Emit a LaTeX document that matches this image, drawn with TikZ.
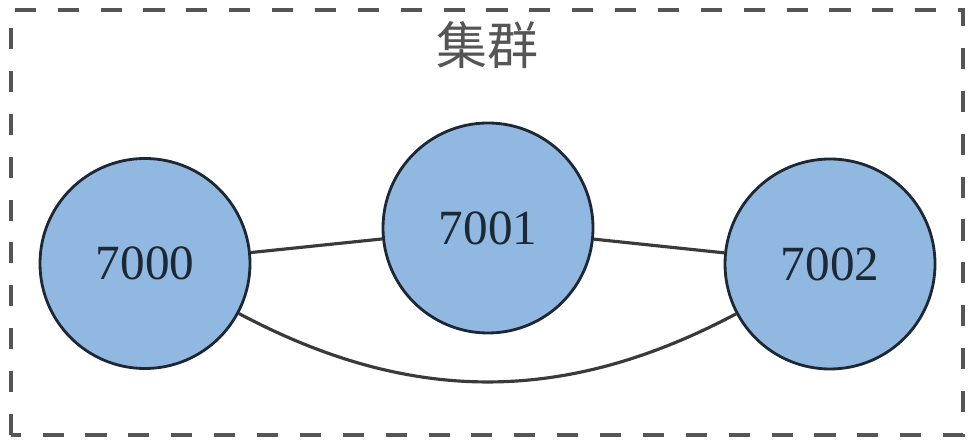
\documentclass[tikz,border=0pt]{standalone}
\usepackage{fontspec}
\setmainfont{Liberation Serif}
\newfontfamily\cjkfont{Noto Sans CJK SC}
\definecolor{nodeblue}{RGB}{144,184,224}
\definecolor{rimdark}{RGB}{30,40,52}
\definecolor{linegray}{RGB}{58,58,58}
\definecolor{framegray}{RGB}{85,85,85}
\tikzset{
  server/.style={circle, draw=rimdark, line width=0.8pt, fill=nodeblue,
    minimum size=2.1cm, inner sep=0pt, text=rimdark, font=\fontsize{14}{16}\selectfont},
  link/.style={draw=linegray, line width=0.9pt},
  frame/.style={draw=framegray, line width=1pt, dash pattern=on 6pt off 6.2pt}
}

\begin{document}
\begin{tikzpicture}
	\useasboundingbox (0,0) rectangle (9.74,4.48);
	\draw[frame] (0.11,0.13) rectangle (9.63,4.38);
	\node[text=framegray, font=\cjkfont\fontsize{14.5}{16}\selectfont] (title) at (4.87,4.03) {集群};

	\node[server] (n7000) at (1.45,1.845) {7000};
	\node[server] (n7001) at (4.88,2.20) {7001};
	\node[server] (n7002) at (8.30,1.84) {7002};

	\draw[link] (n7000) -- (n7001);
	\draw[link] (n7001) -- (n7002);
	\draw[link] (n7000) to[bend right=28] (n7002);
\end{tikzpicture}
\end{document}
